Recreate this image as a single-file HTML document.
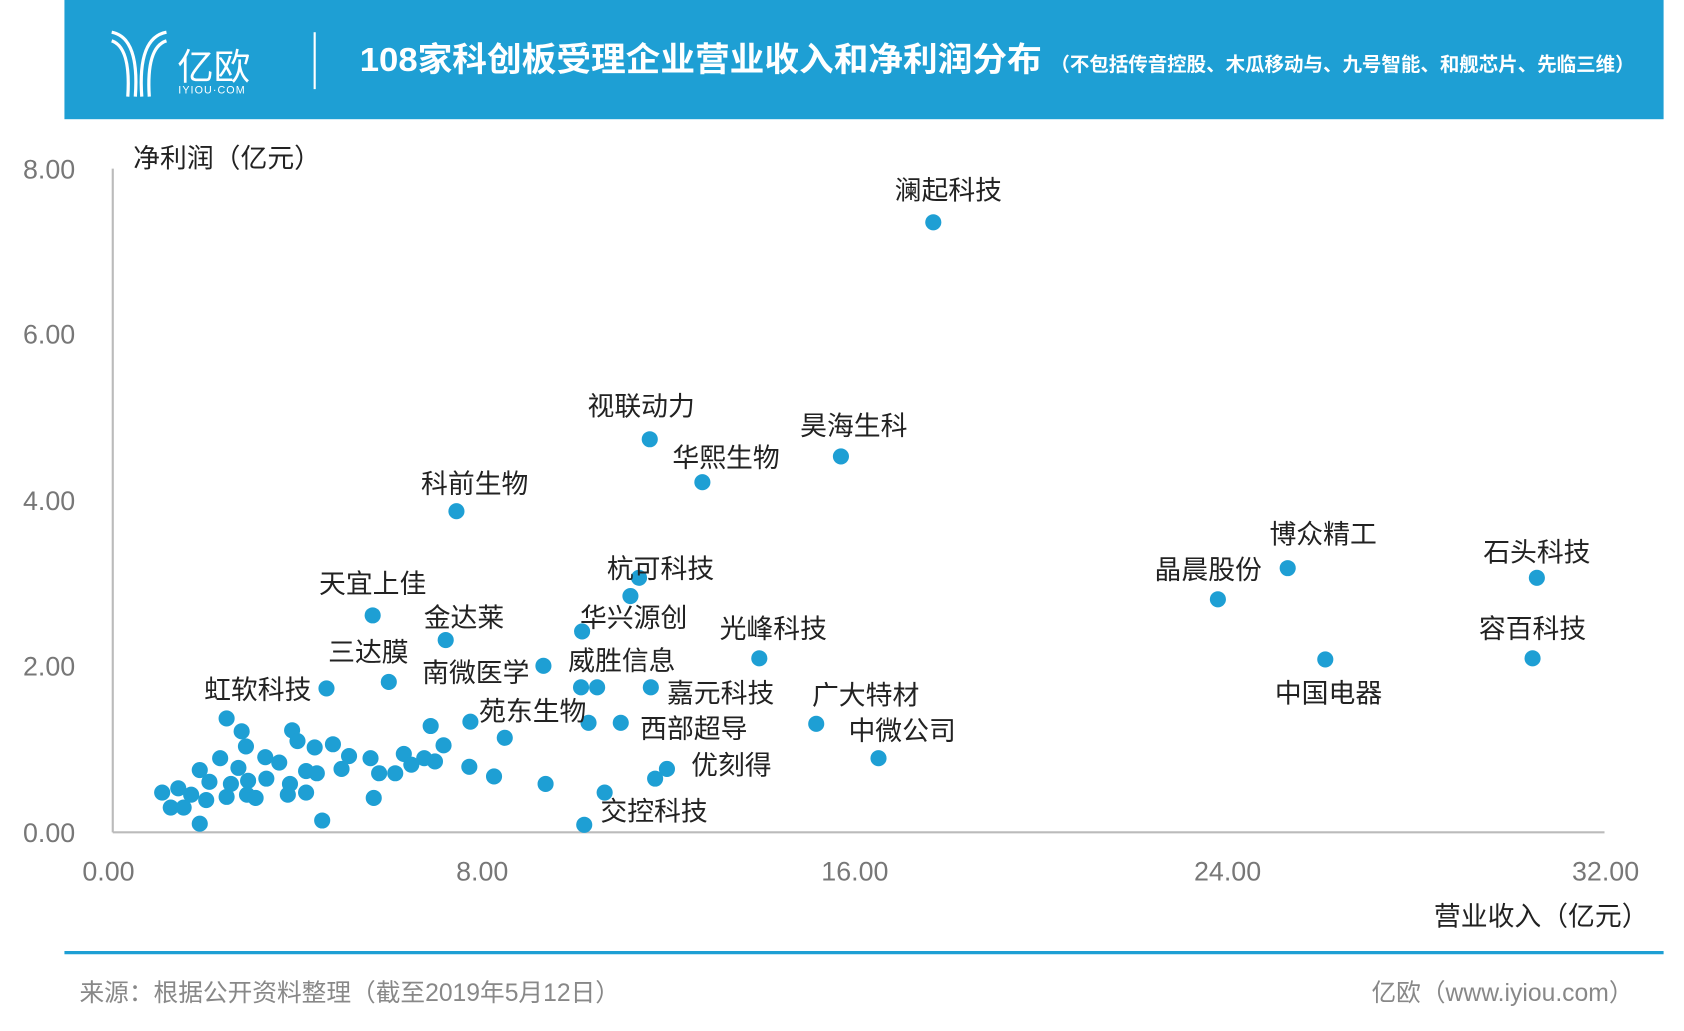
<!DOCTYPE html>
<html><head><meta charset="utf-8">
<style>
html,body{margin:0;padding:0;background:#fff;}
svg{display:block;}
text{font-family:"Liberation Sans","Noto Sans CJK SC",sans-serif;}
.lb{font-size:25px;fill:#222;text-anchor:middle;}
.tk{font-size:25px;fill:#777;}
</style></head><body>
<svg width="1684" height="1031" viewBox="0 0 1568 960" preserveAspectRatio="none" xmlns="http://www.w3.org/2000/svg">
<rect x="60" y="0" width="1489" height="111" fill="#1e9fd4"/>
<g fill="none" stroke="#fff" stroke-width="3">
<path d="M104 30 Q130 35 126 90"/><path d="M104 38 Q122 44 119 90"/><path d="M155 30 Q128 35 132 90"/><path d="M155 38 Q136 44 139 90"/>
</g>
<text x="165" y="74" font-size="34" fill="#fff">亿欧</text>
<text x="166" y="87" font-size="10" fill="#fff" letter-spacing="1">IYIOU·COM</text>
<line x1="293" y1="30" x2="293" y2="83" stroke="#fff" stroke-width="2"/>
<text x="335" y="66" font-size="31" font-weight="bold" fill="#fff" textLength="635" lengthAdjust="spacingAndGlyphs">108家科创板受理企业营业收入和净利润分布</text>
<text x="978" y="66" font-size="18" font-weight="bold" fill="#fff" textLength="544" lengthAdjust="spacingAndGlyphs">（不包括传音控股、木瓜移动与、九号智能、和舰芯片、先临三维）</text>

<line x1="105" y1="157" x2="105" y2="775" stroke="#bbb" stroke-width="2"/>
<line x1="105" y1="775" x2="1494" y2="775" stroke="#bbb" stroke-width="2"/>
<g class="tk" text-anchor="end">
<text x="70" y="166">8.00</text><text x="70" y="320">6.00</text><text x="70" y="475">4.00</text><text x="70" y="629">2.00</text><text x="70" y="784">0.00</text>
</g>
<g class="tk" text-anchor="middle">
<text x="101" y="820">0.00</text><text x="449" y="820">8.00</text><text x="796" y="820">16.00</text><text x="1143" y="820">24.00</text><text x="1495" y="820">32.00</text>
</g>
<text x="124" y="156" font-size="25" fill="#222">净利润（亿元）</text>
<text x="1535" y="862" font-size="25" fill="#222" text-anchor="end">营业收入（亿元）</text>

<g fill="#1e9fd4">
<circle cx="869" cy="207" r="7.5"/><circle cx="605" cy="409" r="7.5"/><circle cx="783" cy="425" r="7.5"/><circle cx="654" cy="449" r="7.5"/><circle cx="425" cy="476" r="7.5"/><circle cx="1199" cy="529" r="7.5"/><circle cx="1134" cy="558" r="7.5"/><circle cx="1431" cy="538" r="7.5"/><circle cx="1427" cy="613" r="7.5"/><circle cx="1234" cy="614" r="7.5"/><circle cx="595" cy="538" r="7.5"/><circle cx="587" cy="555" r="7.5"/><circle cx="347" cy="573" r="7.5"/><circle cx="415" cy="596" r="7.5"/><circle cx="542" cy="588" r="7.5"/><circle cx="707" cy="613" r="7.5"/><circle cx="362" cy="635" r="7.5"/><circle cx="506" cy="620" r="7.5"/><circle cx="556" cy="640" r="7.5"/><circle cx="541" cy="640" r="7.5"/><circle cx="304" cy="641" r="7.5"/><circle cx="606" cy="640" r="7.5"/><circle cx="760" cy="674" r="7.5"/><circle cx="470" cy="687" r="7.5"/><circle cx="578" cy="673" r="7.5"/><circle cx="818" cy="706" r="7.5"/><circle cx="621" cy="716" r="7.5"/><circle cx="610" cy="725" r="7.5"/><circle cx="544" cy="768" r="7.5"/>
<circle cx="548" cy="673" r="7.5"/><circle cx="438" cy="672" r="7.5"/><circle cx="401" cy="676" r="7.5"/><circle cx="413" cy="694" r="7.5"/><circle cx="437" cy="714" r="7.5"/><circle cx="460" cy="723" r="7.5"/><circle cx="508" cy="730" r="7.5"/><circle cx="563" cy="738" r="7.5"/>
<circle cx="211" cy="669" r="7.5"/><circle cx="225" cy="681" r="7.5"/><circle cx="229" cy="695" r="7.5"/><circle cx="272" cy="680" r="7.5"/><circle cx="277" cy="690" r="7.5"/><circle cx="293" cy="696" r="7.5"/><circle cx="310" cy="693" r="7.5"/><circle cx="325" cy="704" r="7.5"/><circle cx="345" cy="706" r="7.5"/><circle cx="376" cy="702" r="7.5"/><circle cx="395" cy="706" r="7.5"/><circle cx="405" cy="709" r="7.5"/><circle cx="383" cy="712" r="7.5"/><circle cx="368" cy="720" r="7.5"/><circle cx="353" cy="720" r="7.5"/><circle cx="348" cy="743" r="7.5"/><circle cx="300" cy="764" r="7.5"/><circle cx="186" cy="767" r="7.5"/><circle cx="159" cy="752" r="7.5"/><circle cx="171" cy="752" r="7.5"/><circle cx="151" cy="738" r="7.5"/><circle cx="166" cy="734" r="7.5"/><circle cx="186" cy="717" r="7.5"/><circle cx="205" cy="706" r="7.5"/><circle cx="195" cy="728" r="7.5"/><circle cx="211" cy="742" r="7.5"/><circle cx="230" cy="740" r="7.5"/><circle cx="238" cy="743" r="7.5"/><circle cx="247" cy="705" r="7.5"/><circle cx="260" cy="710" r="7.5"/><circle cx="270" cy="730" r="7.5"/><circle cx="285" cy="738" r="7.5"/><circle cx="268" cy="740" r="7.5"/><circle cx="295" cy="720" r="7.5"/><circle cx="318" cy="716" r="7.5"/><circle cx="248" cy="725" r="7.5"/><circle cx="222" cy="715" r="7.5"/><circle cx="231" cy="727" r="7.5"/><circle cx="192" cy="745" r="7.5"/><circle cx="178" cy="740" r="7.5"/><circle cx="285" cy="718" r="7.5"/><circle cx="215" cy="730" r="7.5"/>
</g>

<g class="lb">
<text x="883" y="186">澜起科技</text><text x="597" y="387">视联动力</text><text x="795" y="405">昊海生科</text><text x="676" y="435">华熙生物</text><text x="442" y="459">科前生物</text><text x="1232" y="506">博众精工</text><text x="1125" y="539">晶晨股份</text><text x="1431" y="523">石头科技</text><text x="1427" y="594">容百科技</text><text x="1237" y="654">中国电器</text><text x="615" y="538">杭可科技</text><text x="347" y="552">天宜上佳</text><text x="432" y="584">金达莱</text><text x="590" y="584">华兴源创</text><text x="720" y="594">光峰科技</text><text x="343" y="616">三达膜</text><text x="443" y="635">南微医学</text><text x="579" y="624">威胜信息</text><text x="240" y="651">虹软科技</text><text x="671" y="654">嘉元科技</text><text x="806" y="656">广大特材</text><text x="496" y="671">苑东生物</text><text x="646" y="687">西部超导</text><text x="840" y="689">中微公司</text><text x="681" y="721">优刻得</text><text x="609" y="764">交控科技</text>
</g>

<line x1="60" y1="887" x2="1549" y2="887" stroke="#1e9fd4" stroke-width="3"/>
<text x="74" y="932" font-size="23" fill="#888">来源：根据公开资料整理（截至2019年5月12日）</text>
<text x="1521" y="932" font-size="23" fill="#888" text-anchor="end">亿欧（www.iyiou.com）</text>
</svg>
</body></html>
